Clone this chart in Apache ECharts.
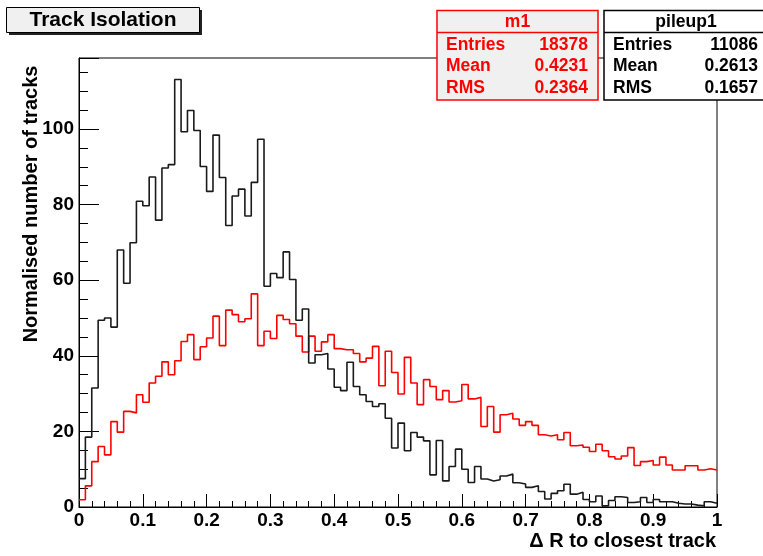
<!DOCTYPE html>
<html>
<head>
<meta charset="utf-8">
<title>Track Isolation</title>
<script src="https://cdn.jsdelivr.net/npm/echarts@6/dist/echarts.min.js"></script>
<style>
  html, body { margin: 0; padding: 0; background: #fff; }
  #chart { width: 763px; height: 556px; }
</style>
</head>
<body>
<div id="chart"></div>
<script>
// 100 bins of 0.01 from 0 to 1
var binLow = 0
var binWidth = 0.01

// pileup1 (black)
var pileupVals = [
  7.5, 18.5, 31.5, 49.4, 50.0, 47.6, 68.0, 59.2, 69.9, 80.9,
  79.7, 87.3, 75.9, 89.7, 90.6, 113.1, 99.3, 104.9, 99.6, 90.1,
  83.5, 98.4, 87.2, 74.5, 82.3, 84.1, 77.0, 85.9, 97.3, 58.4,
  61.8, 60.7, 67.5, 60.2, 49.4, 52.4, 38.1, 40.3, 40.6, 36.5,
  31.7, 30.8, 38.3, 31.9, 29.7, 27.9, 26.6, 27.3, 23.5, 15.6,
  22.2, 14.9, 19.7, 18.5, 17.5, 8.5, 17.6, 6.9, 10.7, 15.3,
  10.0, 6.5, 10.7, 7.4, 6.9, 7.2, 8.2, 8.7, 6.4, 6.1,
  5.2, 5.6, 4.1, 2.1, 3.6, 4.3, 6.0, 3.4, 3.9, 2.0,
  1.4, 2.9, 0.3, 1.7, 2.7, 2.5, 1.2, 1.4, 2.5, 1.2,
  2.0, 1.4, 1.4, 1.0, 0.8, 0.8, 0.5, 0.3, 1.4, 1.0
]

// m1 (red)
var m1Vals = [
  1.9, 5.6, 12.0, 16.0, 13.8, 22.6, 19.8, 25.3, 24.9, 29.7,
  27.7, 32.8, 34.6, 38.4, 35.0, 38.7, 43.8, 45.6, 39.0, 42.4,
  44.7, 50.5, 42.7, 52.1, 50.9, 49.0, 49.8, 56.4, 42.7, 46.5,
  44.6, 50.7, 49.6, 48.5, 45.2, 41.0, 45.2, 41.2, 43.7, 45.6,
  41.9, 41.6, 41.6, 40.6, 38.4, 39.4, 42.5, 32.1, 41.2, 35.6,
  29.9, 39.6, 32.8, 27.1, 33.7, 31.9, 28.4, 30.8, 27.8, 28.1,
  32.4, 28.6, 29.0, 21.3, 26.6, 19.8, 24.4, 24.8, 23.3, 21.6,
  22.6, 21.6, 19.1, 18.8, 19.1, 17.8, 19.7, 16.2, 16.4, 15.8,
  14.7, 16.6, 14.9, 13.3, 12.7, 13.5, 15.7, 11.0, 12.0, 12.3,
  11.1, 13.2, 11.1, 9.8, 9.8, 10.9, 10.9, 9.8, 10.1, 9.8
]

var m1Stats = [['Entries', '18378'], ['Mean', '0.4231'], ['RMS', '0.2364']]
var pileupStats = [['Entries', '11086'], ['Mean', '0.2613'], ['RMS', '0.1657']]

var FONT = '"Liberation Sans", Arial, Helvetica, sans-serif'

// histogram outline: left edge of each bin, plus the right edge of the last bin
function toSteps(vals) {
  var pts = vals.map(function(v, i) { return [binLow + i * binWidth, v] })
  pts.push([binLow + vals.length * binWidth, vals[vals.length - 1]])
  return pts
}

function txt(x, y, text, opts) {
  opts = opts || {}
  return {
    type: 'text',
    x: x,
    y: y,
    rotation: opts.rotation || 0,
    z: 100,
    style: {
      text: text,
      font: 'bold ' + (opts.size || 17) + 'px ' + FONT,
      fill: opts.color || '#000',
      align: opts.align || 'left',
      textAlign: opts.align || 'left',
      verticalAlign: 'middle',
      textVerticalAlign: 'middle'
    }
  }
}

function statsBox(x, w, name, rows, color, bg) {
  var els = [
    { type: 'rect', z: 90, shape: { x: x, y: 10.5, width: w, height: 89.5 },
      style: { fill: bg, stroke: color, lineWidth: 1.5 } },
    { type: 'line', z: 91, shape: { x1: x, y1: 32.5, x2: x + w, y2: 32.5 },
      style: { stroke: color, lineWidth: 1.5 } },
    txt(x + w / 2, 22, name, { color: color, align: 'center', size: 17.5 })
  ]
  rows.forEach(function(r, i) {
    els.push(txt(x + 9, 45 + i * 21.5, r[0], { color: color, size: 17.5 }))
    els.push(txt(x + w - 10, 45 + i * 21.5, r[1], { color: color, align: 'right', size: 17.5 }))
  })
  return els
}

var graphics = [
  // title box with shadow
  { type: 'rect', z: 80, shape: { x: 9, y: 10, width: 193, height: 25 }, style: { fill: '#222' } },
  { type: 'rect', z: 81, shape: { x: 6.5, y: 7.5, width: 193, height: 25 },
    style: { fill: '#f0f0f0', stroke: '#000', lineWidth: 1 } },
  txt(103, 20.5, 'Track Isolation', { size: 21, align: 'center' }),
  // axis titles
  txt(31, 204, 'Normalised number of tracks', { size: 20, align: 'center', rotation: Math.PI / 2 }),
  txt(716, 541, 'Δ R to closest track', { size: 20, align: 'right' })
]
graphics = graphics
  .concat(statsBox(437, 161, 'm1', m1Stats, '#ff0000', '#f0f0f0'))
  .concat(statsBox(604, 164, 'pileup1', pileupStats, '#000', '#fff'))

var option = {
  animation: false,
  backgroundColor: '#fff',
  grid: {
    left: 79, right: 46, top: 58, bottom: 49,
    show: true, borderColor: '#000', borderWidth: 1, backgroundColor: 'transparent'
  },
  xAxis: {
    type: 'value',
    min: 0,
    max: 1,
    interval: 0.1,
    axisLine: { onZero: false, lineStyle: { color: '#000', width: 1 } },
    axisTick: { inside: true, length: 13, lineStyle: { color: '#000' } },
    minorTick: { show: true, splitNumber: 5, length: 6, lineStyle: { color: '#000' } },
    splitLine: { show: false },
    axisLabel: { color: '#000', fontFamily: FONT, fontWeight: 'bold', fontSize: 19, margin: 4 }
  },
  yAxis: {
    type: 'value',
    min: 0,
    max: 118.8,
    interval: 20,
    axisLine: { show: true, lineStyle: { color: '#000', width: 1 } },
    axisTick: { inside: true, length: 20, lineStyle: { color: '#000' } },
    minorTick: { show: true, splitNumber: 4, length: 9, lineStyle: { color: '#000' } },
    splitLine: { show: false },
    axisLabel: {
      color: '#000', fontFamily: FONT, fontWeight: 'bold', fontSize: 19, margin: 5,
      formatter: function(v) { return v % 20 === 0 ? String(v) : '' }
    }
  },
  series: [
    {
      name: 'm1',
      type: 'line',
      step: 'end',
      data: toSteps(m1Vals),
      showSymbol: false,
      lineStyle: { color: '#ff0000', width: 1.6 },
      z: 3
    },
    {
      name: 'pileup1',
      type: 'line',
      step: 'end',
      data: toSteps(pileupVals),
      showSymbol: false,
      lineStyle: { color: '#1a1a1a', width: 1.6 },
      z: 4
    }
  ],
  graphic: graphics
}

var chart = echarts.init(document.getElementById('chart'))
chart.setOption(option)
</script>
</body>
</html>
